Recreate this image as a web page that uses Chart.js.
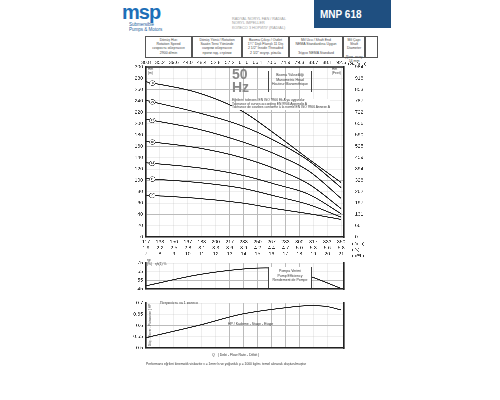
<!DOCTYPE html>
<html>
<head>
<meta charset="utf-8">
<script src="https://cdn.jsdelivr.net/npm/chart.js"></script>
<style>
  body { margin: 0; width: 500px; height: 400px; background: #fff; font-family: "Liberation Sans", Arial, sans-serif; position: relative; overflow: hidden; }
  canvas { position: absolute; }
  .t { position: absolute; color: #333; font-size: 4px; line-height: 5px; white-space: nowrap; }
  .cell { position: absolute; top: 36px; height: 22px; border: 0.5px solid #555; font-size: 3.5px; line-height: 4.2px; text-align: center; color: #444; box-sizing: border-box; padding-top: 1px; background: #fff; }
</style>
</head>
<body>
<!-- header -->
<div class="t" style="left:122px;top:2px;font:bold 20px 'Liberation Sans';color:#1d6fb8;letter-spacing:-1px;line-height:20px">msp</div>
<div class="t" style="left:129px;top:23px;font-size:4.5px;line-height:4.5px;color:#1d5d9c">Submersible<br>Pumps &amp; Motors</div>
<div class="t" style="left:232px;top:17px;color:#999;font-size:3.8px;line-height:4.3px">RADYAL NORYL FAN / RADIAL<br>NORYL IMPELLER<br>КОЛЕСО З НОРИЛУ (RADIAL)</div>
<div style="position:absolute;left:314px;top:0;width:77px;height:28px;background:#1f4f80;color:#fff;font:bold 10px 'Liberation Sans';line-height:30px;padding-left:6px;box-sizing:border-box">MNP 618</div>
<div class="cell" style="left:145px;width:47px">Dönüş Hızı<br>Rotation Speed<br>скорость обертання<br>2900 d/min</div>
<div class="cell" style="left:192px;width:50px">Dönüş Yönü / Rotation<br>Saatin Tersi Yönünde<br>напрям обертання<br>проти год. стрілки</div>
<div class="cell" style="left:242px;width:47px">Basma Çıkışı / Outlet<br>1¼" Dişli Flanşlı 11 Diş<br>2 1/2" Inside Threaded<br>2 1/2" внутр. різьба</div>
<div class="cell" style="left:289px;width:54px">Mil Ucu / Shaft End<br>NEMA Standardına Uygun<br><br>Згідно NEMA Standard</div>
<div class="cell" style="left:343px;width:22px">Mil Çapı<br>Shaft Diameter<br><br>Діам. валу 14 mm</div>
<div class="cell" style="left:365px;width:13px"></div>

<canvas id="main"></canvas>
<canvas id="eff"></canvas>
<canvas id="pow"></canvas>

<!-- overlays in main chart -->
<div class="t" style="left:232px;top:68px;font:bold 14px 'Liberation Sans';color:#888;line-height:13px">50<br>Hz</div>
<div class="t" style="left:268px;top:71px;width:42px;height:19px;border-left:0.6px solid #444;border-right:0.6px solid #444;text-align:center;font-size:3.5px;line-height:4.5px;padding-top:2px">Basma Yüksekliği<br>Manometric Head<br>Hauteur Manométrique</div>
<div class="t" style="left:232px;top:99px;font-size:3.3px;line-height:3.6px;background:#fff">Eğrilerin toleransı EN ISO 9906 Ek A ya uygundur<br>Tolerance of curves according EN 9906 Appendix A<br>Tolérance de courbes conforme à la norme EN ISO 9906 Annexe A</div>
<div class="t" style="left:148px;top:68px;font-size:3.3px;line-height:3.5px">Hm<br>(m)</div>
<div class="t" style="left:332px;top:68px;font-size:3.3px;line-height:3.5px">Hm<br>(Feet)</div>
<div class="t" style="left:147px;top:259px;font-size:3.3px;line-height:3.5px">ηp<br>(%)&nbsp;&nbsp; ηh(1) %</div>
<div class="t" style="left:268px;top:267px;width:42px;height:19px;border-left:0.6px solid #444;border-right:0.6px solid #444;text-align:center;font-size:3.5px;line-height:4.5px;padding-top:2px;background:#fff">Pompa Verimi<br>Pump Efficiency<br>Rendement de Pompe</div>
<div class="t" style="left:160px;top:301px;font-size:3.5px">Потужність на 1 колесо</div>
<div class="t" style="left:228px;top:322px;font-size:3.5px">HP / Kademe - Stage - Etage</div>
<div class="t" style="left:148px;font-size:3.2px;transform:rotate(-90deg);transform-origin:0 0;top:348px">[ Güç - Power - Puissance ] HP</div>
<div class="t" style="left:212px;top:353px;font-size:3.5px">Q &nbsp;&nbsp;( Debi - Flow Rate - Débit )</div>
<div class="t" style="left:146px;top:362px;font-size:3.3px">Performans eğrileri kinematik viskozite ν = 1mm²/s ve yoğunluk ρ = 1000 kg/m³ temel alınarak oluşturulmuştur</div>

<script>
// flow axis (m3/h)
const flow = [7, 10.8, 13.9, 16.3, 18.7, 21];
const stages = [30, 26, 22, 18, 14, 11, 8];
const head30 = [274, 254, 222, 181, 137, 96];
const head26 = [241, 219, 196, 169, 134, 87];
const head22 = [208, 190, 168, 146, 116, 68];
const head18 = [169, 157, 140, 120, 93, 50];
const head14 = [131, 122, 109, 93, 75, 41];
const head11 = [103, 96, 86, 72, 57, 35];
const head8 = [74, 68, 60, 50, 41, 31];
const heads = [head30, head26, head22, head18, head14, head11, head8];

const effFlow = [7, 10.8, 13.9, 15.6, 17, 18.7, 21];
const efficiency = [48.7, 61.6, 68, 69.3, 68, 60, 45.6];
const powFlow = [7, 10.8, 13.9, 17, 18.7, 19.9, 21];
const power = [0.546, 0.601, 0.651, 0.679, 0.688, 0.685, 0.669];

const lpmLabels = ['117','133','150','167','183','200','217','233','250','267','283','300','317','333','350'];
const lpsLabels = ['1.9','2.2','2.5','2.8','3.1','3.3','3.6','3.9','4.2','4.4','4.7','5.0','5.3','5.6','5.8'];
const galLabels = ['30.8','35.2','39.6','44.0','48.4','52.8','57.2','61.6','66.1','70.5','74.9','79.3','83.7','88.1','92.5'];
const feetLabels = ['0','66','131','197','262','328','394','459','525','590','656','722','787','853','918','984'];

const font = { family: 'Liberation Sans', size: 5 };
Chart.defaults.animation = false;
Chart.defaults.color = '#333';

function place(id, left, top, w, h) {
  const c = document.getElementById(id);
  c.width = w; c.height = h;
  c.style.left = left + 'px'; c.style.top = top + 'px';
  c.style.width = w + 'px'; c.style.height = h + 'px';
  return c;
}
function fit(size, dim) {
  return function (axis) { axis[dim] = size; };
}
const grid = { color: '#bbb', lineWidth: 0.5, drawTicks: false };
const border = { color: '#222', width: 1.2 };

// circled stage numbers
const stageLabels = {
  id: 'stageLabels',
  afterDatasetsDraw(chart) {
    const ctx = chart.ctx;
    const xs = chart.scales.x, ys = chart.scales.y;
    stages.forEach((s, i) => {
      const x = xs.getPixelForValue(7.45);
      const y = ys.getPixelForValue(heads[i][0] - (heads[i][0] - heads[i][1]) * 0.45 / 3.8);
      ctx.save();
      ctx.fillStyle = '#fff'; ctx.strokeStyle = '#444'; ctx.lineWidth = 0.5;
      ctx.beginPath(); ctx.ellipse(x, y, 3, 2.4, 0, 0, Math.PI * 2); ctx.fill(); ctx.stroke();
      ctx.fillStyle = '#333'; ctx.font = '3.2px Liberation Sans';
      ctx.textAlign = 'center'; ctx.textBaseline = 'middle';
      ctx.fillText(String(s), x, y);
      ctx.restore();
    });
  }
};

new Chart(place('main', 100, 53, 300, 212), {
  type: 'line',
  data: {
    datasets: heads.map((h, i) => ({
      label: String(stages[i]),
      data: flow.map((f, j) => ({ x: f, y: h[j] })),
      borderColor: '#222', borderWidth: 1, pointRadius: 0, tension: 0.4, cubicInterpolationMode: 'monotone'
    }))
  },
  options: {
    responsive: false, devicePixelRatio: 3,
    plugins: { legend: { display: false }, tooltip: { enabled: false } },
    layout: { padding: { top: 14 } },
    scales: {
      x: { type: 'linear', min: 7, max: 21.2, position: 'bottom', afterFit: fit(28, 'height'),
        afterBuildTicks: a => { a.ticks = lpmLabels.map((_, i) => ({ value: 7 + i })); },
        ticks: { font, padding: 2, maxRotation: 0, autoSkip: false,
          callback: (v, i) => [lpmLabels[i], lpsLabels[i], String(v)] },
        grid, border },
      y: { min: 0, max: 300, position: 'left', afterFit: fit(46, 'width'),
        ticks: { font, stepSize: 20, padding: 3 }, grid, border },
      yFeet: { min: 0, max: 300, position: 'right', afterFit: fit(56, 'width'),
        afterBuildTicks: a => { a.ticks = feetLabels.map((_, i) => ({ value: i * 20 })); },
        ticks: { font, padding: 3, callback: (v, i) => feetLabels[i] },
        grid: { display: false }, border }
    }
  },
  plugins: [stageLabels, {
    id: 'unitText',
    afterDraw(chart) {
      const ctx = chart.ctx, a = chart.chartArea, xs = chart.scales.x;
      ctx.save(); ctx.font = '5px Liberation Sans'; ctx.fillStyle = '#333';
      ctx.textAlign = 'center'; ctx.textBaseline = 'bottom';
      galLabels.forEach((g, i) => ctx.fillText(g, xs.getPixelForValue(7 + i), a.top - 2));
      ctx.strokeStyle = '#222'; ctx.lineWidth = 1.2;
      ctx.beginPath(); ctx.moveTo(a.left, a.top); ctx.lineTo(a.right, a.top); ctx.stroke();
      ctx.textAlign = 'left'; ctx.font = '4.5px Liberation Sans';
      ctx.fillText('(Gal/min)', a.right + 4, a.top - 1);
      ctx.textBaseline = 'alphabetic';
      ctx.fillText('(l/min)', a.right + 8, a.bottom + 8);
      ctx.fillText('(l/s)', a.right + 8, a.bottom + 14);
      ctx.fillText('(m³/h)', a.right + 8, a.bottom + 20);
      ctx.restore();
    }
  }]
});

function smallPanel(id, top, h, xs, ys, min, max, step, decimals) {
  new Chart(place(id, 100, top, 300, h), {
    type: 'line',
    data: { datasets: [{ data: xs.map((f, j) => ({ x: f, y: ys[j] })),
      borderColor: '#222', borderWidth: 1, pointRadius: 0, tension: 0.4, cubicInterpolationMode: 'monotone' }] },
    options: {
      responsive: false, devicePixelRatio: 3,
      plugins: { legend: { display: false }, tooltip: { enabled: false } },
      scales: {
        x: { type: 'linear', min: 7, max: 21.2, afterFit: fit(2, 'height'),
          ticks: { display: false, stepSize: 1 }, grid, border },
        y: { min, max, afterFit: fit(46, 'width'),
          ticks: { font, stepSize: step, padding: 3, callback: v => decimals ? v.toFixed(decimals).replace(/0$/, '') : v },
          grid, border },
        yR: { position: 'right', afterFit: fit(56, 'width'), ticks: { display: false },
          grid: { display: false }, border }
      }
    }
  });
}
smallPanel('eff', 257, 38, effFlow, efficiency, 45, 75, 10, 0);
smallPanel('pow', 297, 57, powFlow, power, 0.5, 0.7, 0.05, 2);
</script>
</body>
</html>
